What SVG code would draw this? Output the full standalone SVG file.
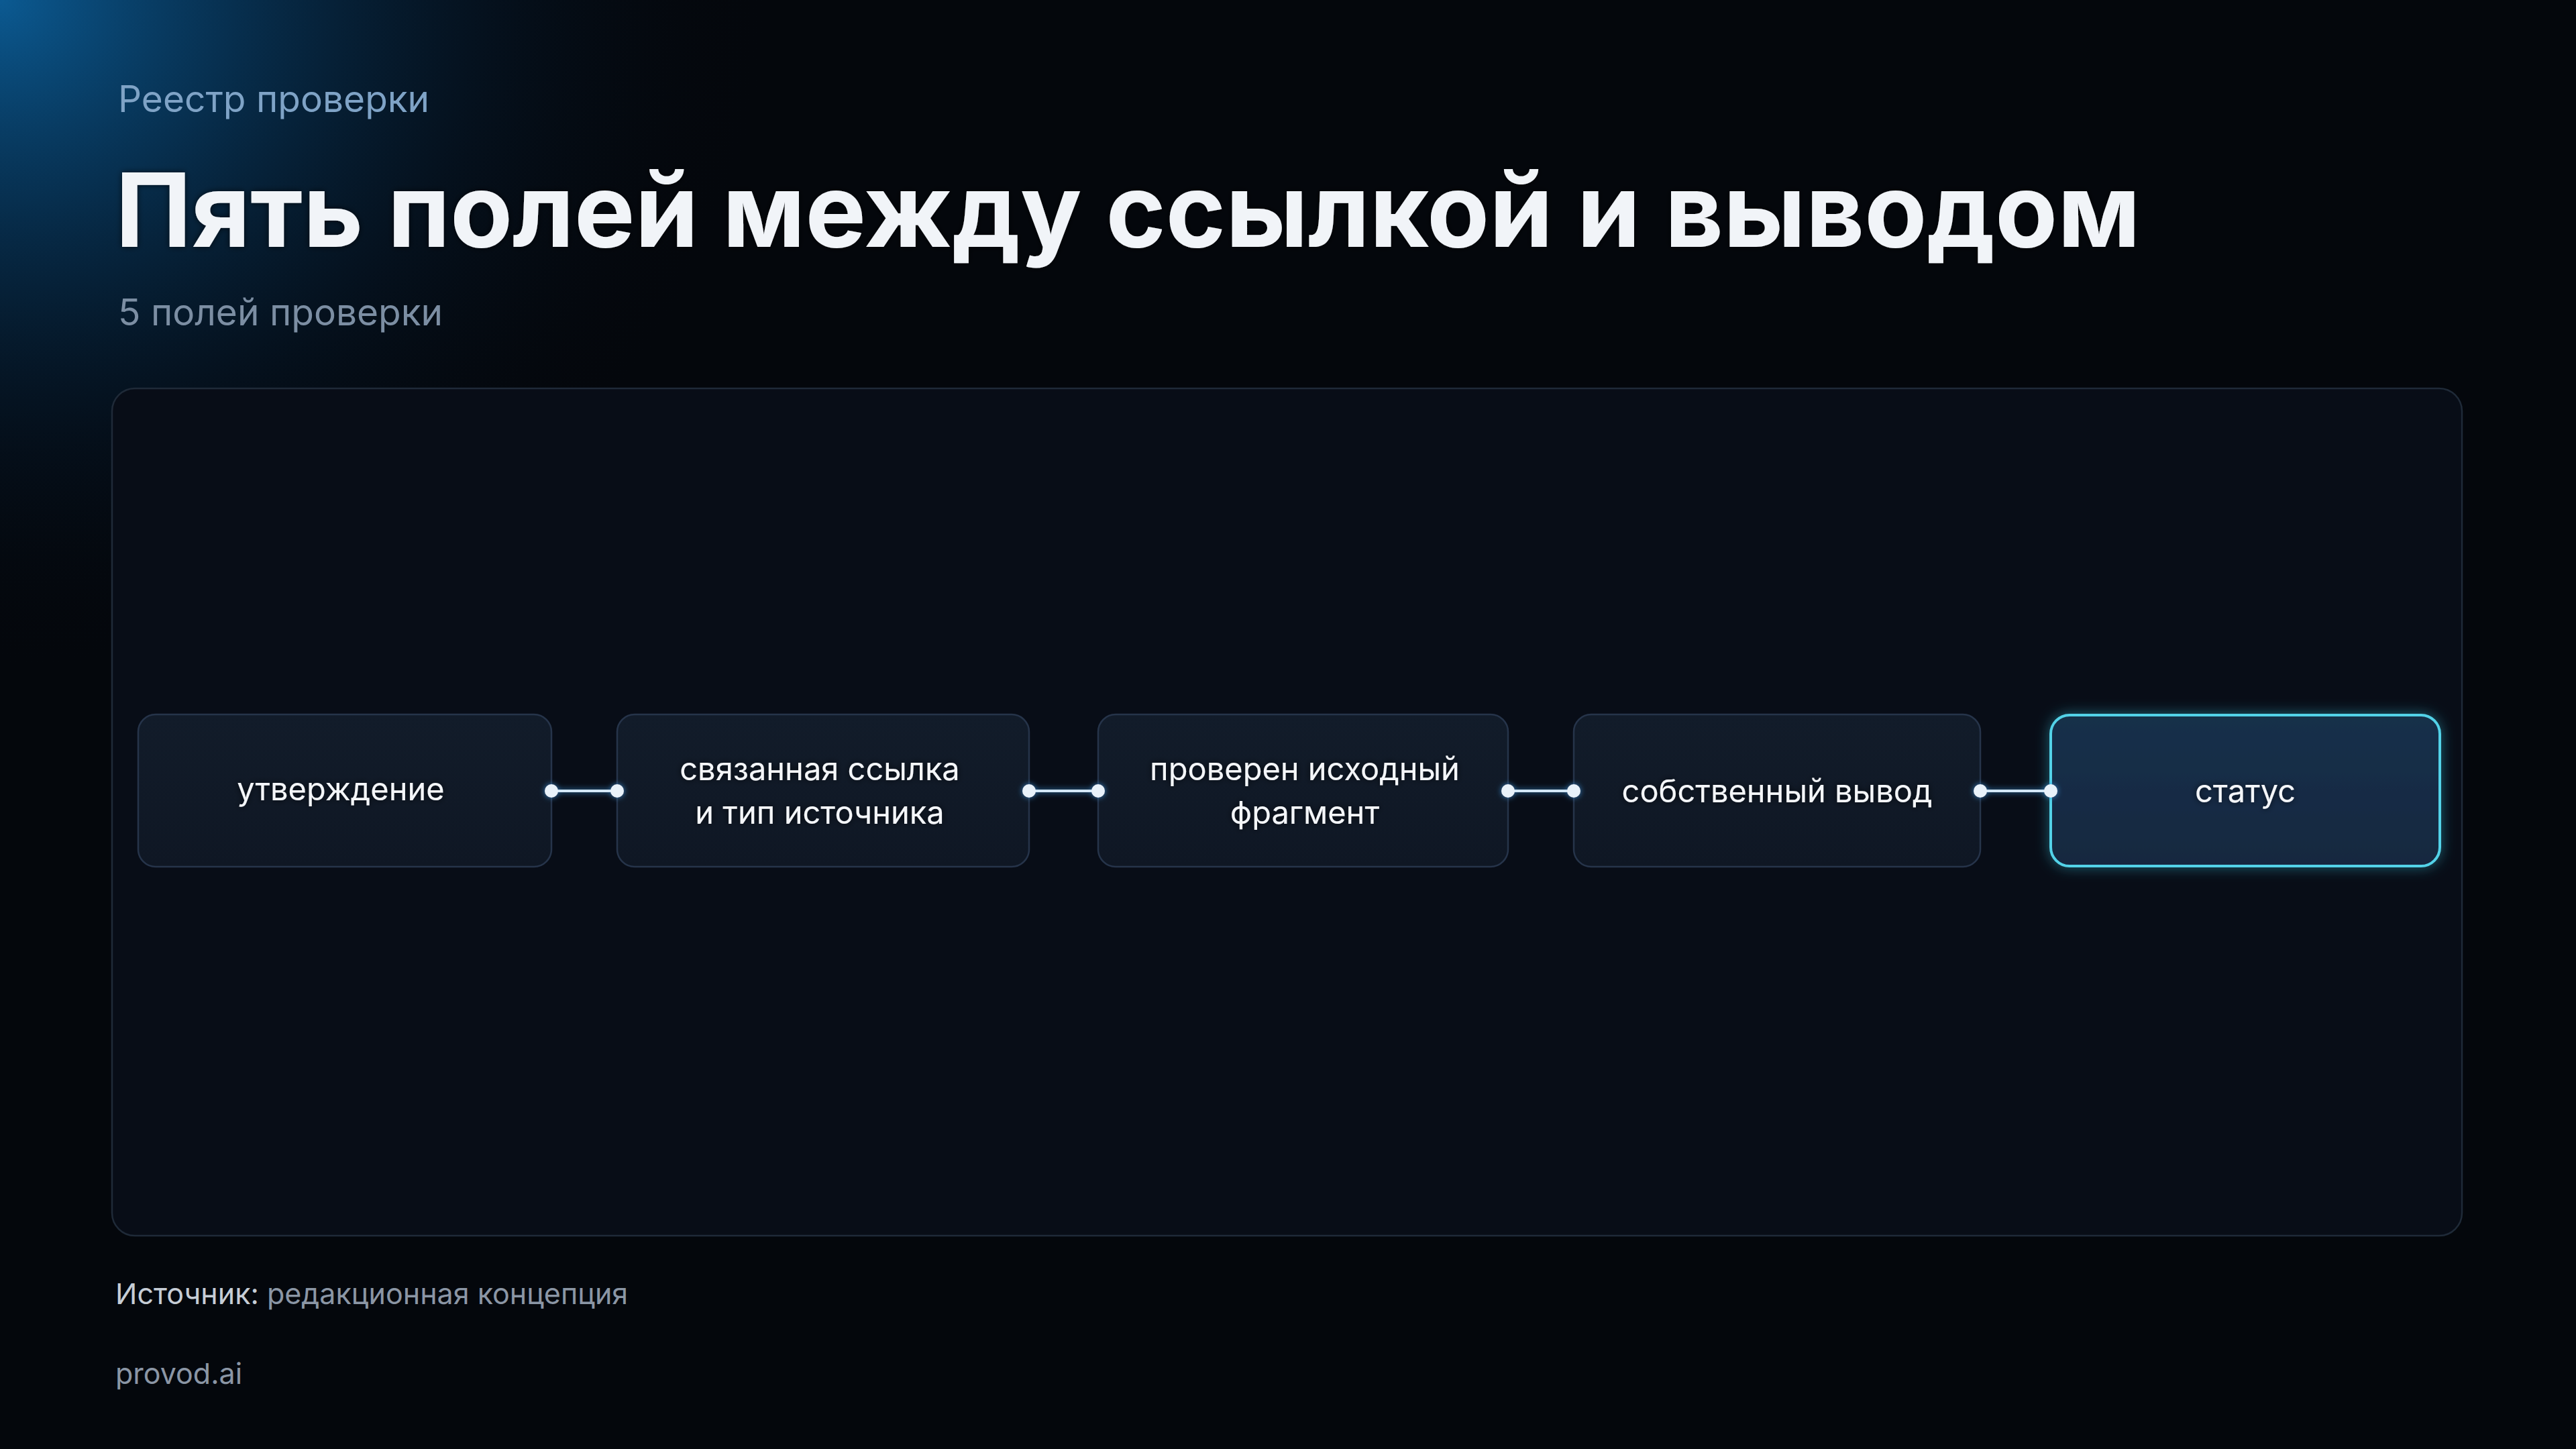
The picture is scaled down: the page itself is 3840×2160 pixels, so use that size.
<svg xmlns="http://www.w3.org/2000/svg" width="3840" height="2160" viewBox="0 0 3840 2160">
<defs>
<radialGradient id="glow" cx="0" cy="0" r="1" gradientUnits="userSpaceOnUse" gradientTransform="translate(0 0) scale(1150 1000)">
<stop offset="0" stop-color="#0b5a92"/>
<stop offset="0.3" stop-color="#083d66" stop-opacity="0.75"/>
<stop offset="0.65" stop-color="#061d33" stop-opacity="0.4"/>
<stop offset="1" stop-color="#04070c" stop-opacity="0"/>
</radialGradient>
<linearGradient id="nodeFill" x1="0" y1="0" x2="0" y2="1">
<stop offset="0" stop-color="#121c2a"/>
<stop offset="1" stop-color="#0f1724"/>
</linearGradient>
<linearGradient id="activeFill" x1="0" y1="0" x2="0" y2="1">
<stop offset="0" stop-color="#17304a"/>
<stop offset="1" stop-color="#132840"/>
</linearGradient>
<filter id="cyanGlow" x="-20%" y="-40%" width="140%" height="180%">
<feGaussianBlur in="SourceAlpha" stdDeviation="10" result="b"/>
<feFlood flood-color="#38c6e0" flood-opacity="0.45"/>
<feComposite in2="b" operator="in" result="g"/>
<feMerge><feMergeNode in="g"/><feMergeNode in="SourceGraphic"/></feMerge>
</filter>
<filter id="dotGlow" x="-50%" y="-300%" width="200%" height="700%">
<feGaussianBlur in="SourceAlpha" stdDeviation="4" result="b"/>
<feFlood flood-color="#3a8fd6" flood-opacity="0.9"/>
<feComposite in2="b" operator="in" result="g"/>
<feMerge><feMergeNode in="g"/><feMergeNode in="SourceGraphic"/></feMerge>
</filter>
<filter id="textShadow" x="-5%" y="-30%" width="110%" height="160%">
<feGaussianBlur in="SourceAlpha" stdDeviation="5" result="b"/>
<feFlood flood-color="#000000" flood-opacity="0.7"/>
<feComposite in2="b" operator="in" result="g"/>
<feMerge><feMergeNode in="g"/><feMergeNode in="SourceGraphic"/></feMerge>
</filter>
</defs>
<style>
.t { font-family: Inter, "Noto Sans", "DejaVu Sans", sans-serif; }
.kicker { font-size: 55px; fill: #7fa3c6; }
.title { font-size: 152px; font-weight: 700; fill: #f1f4f8; }
.sub { font-size: 55px; fill: #7c8ea3; }
.foot { font-size: 43px; fill: #8b96a5; }
.footb { fill: #c6cdd6; }
.node rect { fill: url(#nodeFill); stroke: #26344a; stroke-width: 2.5; }
.node.active rect { fill: url(#activeFill); stroke: #52d2e8; stroke-width: 4; }
.label { font-size: 47px; fill: #f4f6f9; text-anchor: middle; }
.conn line { stroke: #d3e7f6; stroke-width: 4; }
.conn circle { fill: #e9f2fa; }
</style>
<rect x="0" y="0" width="3840" height="2160" fill="#04070c"/>
<rect x="0" y="0" width="3840" height="2160" fill="url(#glow)"/>
<text class="t kicker" x="176" y="167">Реестр проверки</text>
<text class="t title" x="172" y="368" filter="url(#textShadow)">Пять полей между ссылкой и выводом</text>
<text class="t sub" x="176" y="485">5 полей проверки</text>
<rect id="panel" x="167" y="579" width="3503" height="1263" rx="34" fill="#080d17" stroke="#1f2a38" stroke-width="2.5"/>
<g id="node1" class="node">
<rect x="206" y="1065" width="616" height="227" rx="26"/>
<text class="t label" x="508" y="1193" filter="url(#textShadow)">утверждение</text>
</g>
<g id="node2" class="node">
<rect x="920" y="1065" width="614" height="227" rx="26"/>
<text class="t label" x="1222" y="1163" filter="url(#textShadow)">связанная ссылка</text>
<text class="t label" x="1222" y="1228" filter="url(#textShadow)">и тип источника</text>
</g>
<g id="node3" class="node">
<rect x="1637" y="1065" width="611" height="227" rx="26"/>
<text class="t label" x="1945" y="1163" filter="url(#textShadow)">проверен исходный</text>
<text class="t label" x="1945" y="1228" filter="url(#textShadow)">фрагмент</text>
</g>
<g id="node4" class="node">
<rect x="2346" y="1065" width="606" height="227" rx="26"/>
<text class="t label" x="2649" y="1196" filter="url(#textShadow)">собственный вывод</text>
</g>
<g id="node5" class="node active">
<rect x="3057" y="1066" width="580" height="225" rx="28" filter="url(#cyanGlow)"/>
<text class="t label" x="3347" y="1196" filter="url(#textShadow)">статус</text>
</g>
<g id="connectors" class="conn" filter="url(#dotGlow)">
<line x1="822" y1="1179" x2="920" y2="1179"/>
<circle cx="822" cy="1179" r="10"/><circle cx="920" cy="1179" r="10"/>
<line x1="1534" y1="1179" x2="1637" y2="1179"/>
<circle cx="1534" cy="1179" r="10"/><circle cx="1637" cy="1179" r="10"/>
<line x1="2248" y1="1179" x2="2346" y2="1179"/>
<circle cx="2248" cy="1179" r="10"/><circle cx="2346" cy="1179" r="10"/>
<line x1="2952" y1="1179" x2="3057" y2="1179"/>
<circle cx="2952" cy="1179" r="10"/><circle cx="3057" cy="1179" r="10"/>
</g>
<text class="t foot" x="172" y="1944"><tspan class="footb">Источник:</tspan> редакционная концепция</text>
<text class="t foot" x="172" y="2063">provod.ai</text>
</svg>
